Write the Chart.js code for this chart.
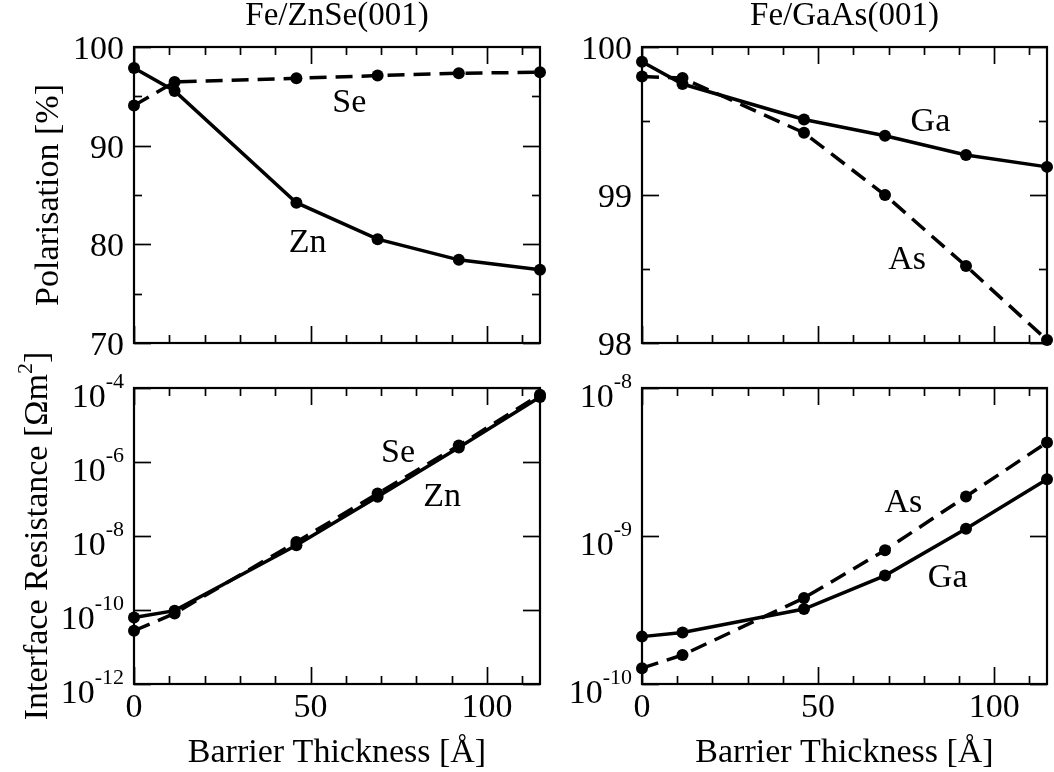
<!DOCTYPE html>
<html>
<head>
<meta charset="utf-8">
<script src="https://cdn.jsdelivr.net/npm/chart.js@4.4.1/dist/chart.umd.min.js"></script>
<style>
html,body{margin:0;padding:0;background:#fff;}
#wrap{position:relative;width:1054px;height:772px;overflow:hidden;background:#fff;}
#wrap canvas{position:absolute;left:0;top:0;}
</style>
</head>
<body>
<div id="wrap">
<canvas id="c1" width="1054" height="772"></canvas>
<canvas id="c2" width="1054" height="772"></canvas>
<canvas id="c3" width="1054" height="772"></canvas>
<canvas id="c4" width="1054" height="772"></canvas>
</div>
<script>
// ---------------- DATA ----------------
const thickness = [0, 11.5, 46, 69, 92, 115];          // barrier thickness [Å]

const polZn = [97.88, 95.55, 84.22, 80.52, 78.43, 77.42];
const polSe = [94.07, 96.46, 96.83, 97.10, 97.34, 97.44];
const polGa = [99.90, 99.75, 99.51, 99.40, 99.27, 99.19];
const polAs = [99.80, 99.79, 99.42, 99.00, 98.52, 98.02];

const resZn = [6.3e-11, 9.6e-11, 5.6e-9, 1.15e-7, 2.45e-6, 5.75e-5];
const resSe = [2.75e-11, 8.1e-11, 6.9e-9, 1.4e-7, 2.8e-6, 6.6e-5];
const resGa = [2.09e-10, 2.23e-10, 3.21e-10, 5.40e-10, 1.12e-9, 2.42e-9];
const resAs = [1.28e-10, 1.57e-10, 3.81e-10, 8.02e-10, 1.85e-9, 4.29e-9];

const xMajorTicks = [0, 50, 100];
const xMinorTicks = [10, 20, 30, 40, 60, 70, 80, 90, 110];
const xTickLabels = ['0', '50', '100'];

const polZnSeMajor = [70, 80, 90, 100];
const polZnSeMinor = [75, 85, 95];
const polZnSeLabels = ['70', '80', '90', '100'];

const polGaAsMajor = [98, 99, 100];
const polGaAsMinor = [98.5, 99.5];
const polGaAsLabels = ['98', '99', '100'];

const resZnSeMajor = [1e-12, 1e-10, 1e-8, 1e-6, 1e-4];
const resZnSeExp = ['-12', '-10', '-8', '-6', '-4'];
const resGaAsMajor = [1e-10, 1e-9, 1e-8];
const resGaAsExp = ['-10', '-9', '-8'];

const titles = ['Fe/ZnSe(001)', 'Fe/GaAs(001)'];
const yTitlePol = 'Polarisation [%]';
const yTitleRes = ['Interface Resistance [Ωm', '2', ']'];
const xTitle = 'Barrier Thickness [Å]';

// ---------------- STYLE / LAYOUT ----------------
const SERIF = '"Liberation Serif", "Times New Roman", serif';
const F_TICK = '34px ' + SERIF;
const F_SUP = '22px ' + SERIF;
const F_TEXT = '34px ' + SERIF;
const F_TITLE = '33px ' + SERIF;
const W = 1054, H = 772;
const boxes = {
  tl: {l: 134, t: 47, r: 540, b: 343},
  tr: {l: 642, t: 47, r: 1047, b: 343},
  bl: {l: 134, t: 388, r: 540, b: 684},
  br: {l: 642, t: 388, r: 1047, b: 684}
};

function drawSupText(ctx, parts, x, y, align) {
  let total = 0;
  parts.forEach(p => { ctx.font = p.font; p.w = ctx.measureText(p.t).width; total += p.w; });
  let cx = align === 'right' ? x - total : (align === 'center' ? x - total / 2 : x);
  ctx.textAlign = 'left';
  ctx.textBaseline = 'alphabetic';
  parts.forEach(p => { ctx.font = p.font; ctx.fillText(p.t, cx, y + (p.dy || 0)); cx += p.w; });
}

const panelPlugin = {
  id: 'panel',
  beforeDatasetsDraw(chart, args, o) {
    const ctx = chart.ctx, a = chart.chartArea;
    const xs = chart.scales.x, ys = chart.scales.y;
    ctx.save();
    ctx.strokeStyle = '#000';
    ctx.lineWidth = 1.7;
    ctx.lineCap = 'butt';
    const seg = (x1, y1, x2, y2) => { ctx.beginPath(); ctx.moveTo(x1, y1); ctx.lineTo(x2, y2); ctx.stroke(); };
    const MAJ = 17, MIN = 8;
    xMajorTicks.forEach(v => { const p = Math.round(xs.getPixelForValue(v)) + 0.5; seg(p, a.bottom, p, a.bottom - MAJ); seg(p, a.top, p, a.top + MAJ); });
    xMinorTicks.forEach(v => { const p = Math.round(xs.getPixelForValue(v)) + 0.5; seg(p, a.bottom, p, a.bottom - MIN); seg(p, a.top, p, a.top + MIN); });
    o.yMajor.forEach(v => { const p = Math.round(ys.getPixelForValue(v)) + 0.5; seg(a.left, p, a.left + MAJ, p); seg(a.right, p, a.right - MAJ, p); });
    (o.yMinor || []).forEach(v => { const p = Math.round(ys.getPixelForValue(v)) + 0.5; seg(a.left, p, a.left + MIN, p); seg(a.right, p, a.right - MIN, p); });
    ctx.lineWidth = 2.2;
    ctx.strokeRect(a.left, a.top, a.right - a.left, a.bottom - a.top);
    ctx.restore();
  },
  afterDraw(chart, args, o) {
    const ctx = chart.ctx, a = chart.chartArea;
    const xs = chart.scales.x, ys = chart.scales.y;
    ctx.save();
    ctx.fillStyle = '#000';
    o.yMajor.forEach((v, i) => {
      const p = ys.getPixelForValue(v);
      if (o.yExp) {
        drawSupText(ctx, [{t: '10', font: F_TICK, dy: 19}, {t: o.yExp[i], font: F_SUP, dy: 0}], a.left - 10, p, 'right');
      } else {
        ctx.font = F_TICK; ctx.textAlign = 'right'; ctx.textBaseline = 'alphabetic';
        ctx.fillText(o.yLabels[i], a.left - 10, p + 12);
      }
    });
    if (o.xLabels) {
      ctx.font = F_TICK; ctx.textAlign = 'center'; ctx.textBaseline = 'alphabetic';
      xMajorTicks.forEach((v, i) => ctx.fillText(xTickLabels[i], xs.getPixelForValue(v), a.bottom + 33));
    }
    const cx = (a.left + a.right) / 2, cy = (a.top + a.bottom) / 2;
    if (o.title) {
      ctx.font = F_TITLE; ctx.textAlign = 'center'; ctx.textBaseline = 'alphabetic';
      ctx.fillText(o.title, cx, 25);
    }
    if (o.xTitle) {
      ctx.font = F_TEXT; ctx.textAlign = 'center'; ctx.textBaseline = 'alphabetic';
      ctx.fillText(o.xTitle, cx, 762);
    }
    if (o.yTitle) {
      ctx.save();
      ctx.translate(o.yTitleX, cy);
      ctx.rotate(-Math.PI / 2);
      if (Array.isArray(o.yTitle)) {
        drawSupText(ctx, [{t: o.yTitle[0], font: F_TEXT}, {t: o.yTitle[1], font: F_SUP, dy: -15}, {t: o.yTitle[2], font: F_TEXT}], 0, 0, 'center');
      } else {
        ctx.font = F_TEXT; ctx.textAlign = 'center'; ctx.textBaseline = 'alphabetic';
        ctx.fillText(o.yTitle, 0, 0);
      }
      ctx.restore();
    }
    (o.notes || []).forEach(n => {
      ctx.font = F_TEXT; ctx.textAlign = 'center'; ctx.textBaseline = 'middle';
      ctx.fillText(n.t, xs.getPixelForValue(n.x), ys.getPixelForValue(n.y));
    });
    ctx.restore();
  }
};

function lineSet(label, data, dashed) {
  return {
    label, data: thickness.map((x, i) => ({x, y: data[i]})),
    borderColor: '#000', backgroundColor: '#000', borderWidth: 3.5,
    borderDash: dashed ? [17, 9] : [], pointRadius: 6, pointHoverRadius: 6,
    pointBackgroundColor: '#000', pointBorderColor: '#000', pointBorderWidth: 0,
    tension: 0, fill: false, clip: false
  };
}

function makeChart(id, box, datasets, yScale, panelOpts) {
  return new Chart(document.getElementById(id), {
    type: 'line',
    data: {datasets},
    options: {
      responsive: false, animation: false, events: [],
      layout: {padding: {left: box.l, top: box.t, right: W - box.r, bottom: H - box.b}},
      scales: {
        x: {type: 'linear', min: 0, max: 115, display: false},
        y: Object.assign({display: false}, yScale)
      },
      plugins: {legend: {display: false}, tooltip: {enabled: false}, title: {display: false}, panel: panelOpts}
    },
    plugins: [panelPlugin]
  });
}

makeChart('c1', boxes.tl, [lineSet('Zn', polZn, false), lineSet('Se', polSe, true)],
  {type: 'linear', min: 70, max: 100},
  {yMajor: polZnSeMajor, yMinor: polZnSeMinor, yLabels: polZnSeLabels, title: titles[0],
   yTitle: yTitlePol, yTitleX: 58,
   notes: [{t: 'Se', x: 61, y: 94.27}, {t: 'Zn', x: 49.2, y: 80.1}]});

makeChart('c2', boxes.tr, [lineSet('Ga', polGa, false), lineSet('As', polAs, true)],
  {type: 'linear', min: 98, max: 100},
  {yMajor: polGaAsMajor, yMinor: polGaAsMinor, yLabels: polGaAsLabels, title: titles[1],
   notes: [{t: 'Ga', x: 81.9, y: 99.49}, {t: 'As', x: 75.3, y: 98.56}]});

makeChart('c3', boxes.bl, [lineSet('Zn', resZn, false), lineSet('Se', resSe, true)],
  {type: 'logarithmic', min: 1e-12, max: 1e-4},
  {yMajor: resZnSeMajor, yExp: resZnSeExp, xLabels: true, xTitle: xTitle,
   yTitle: yTitleRes, yTitleX: 47,
   notes: [{t: 'Se', x: 74.8, y: 1.7e-6}, {t: 'Zn', x: 87.3, y: 1.15e-7}]});

makeChart('c4', boxes.br, [lineSet('Ga', resGa, false), lineSet('As', resAs, true)],
  {type: 'logarithmic', min: 1e-10, max: 1e-8},
  {yMajor: resGaAsMajor, yExp: resGaAsExp, xLabels: true, xTitle: xTitle,
   notes: [{t: 'As', x: 74.2, y: 1.66e-9}, {t: 'Ga', x: 86.8, y: 5.2e-10}]});
</script>
</body>
</html>
